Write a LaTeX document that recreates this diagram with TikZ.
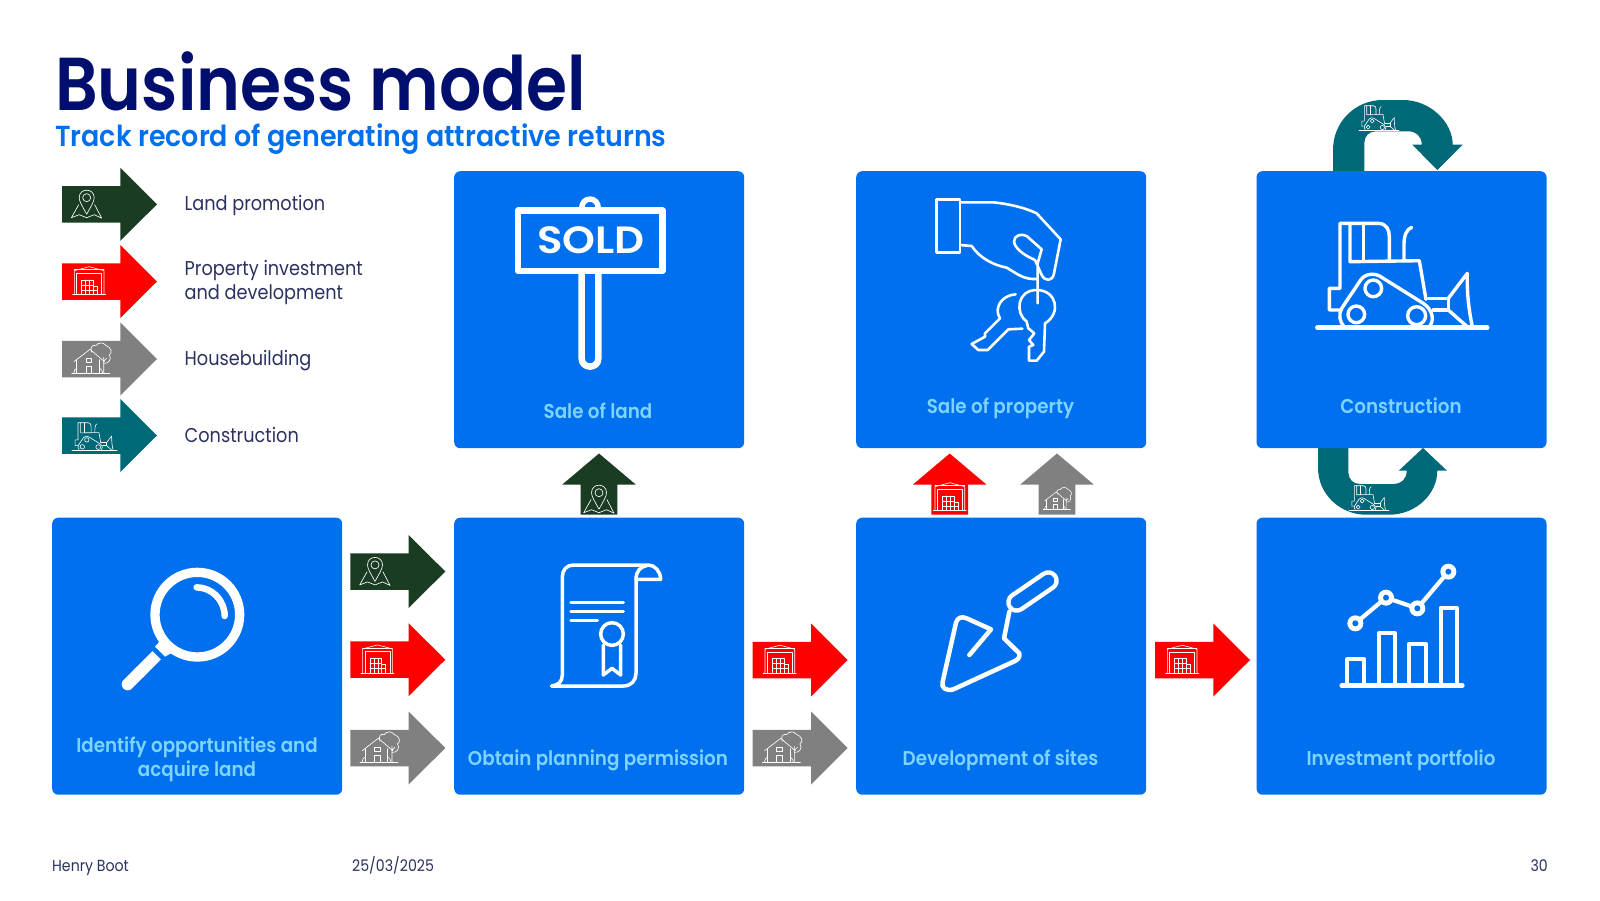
\documentclass[tikz,border=0pt]{standalone}
\usepackage{fontspec}
\setmainfont{Poppins}
\newfontfamily\titlef[FakeStretch=0.886]{Poppins SemiBold}
\newfontfamily\subf[FakeStretch=0.928]{Poppins SemiBold}
\newfontfamily\soldf[FakeStretch=1.1]{Poppins SemiBold}
\newfontfamily\boxf[FakeStretch=0.915]{Poppins SemiBold}
\newfontfamily\bodyf[FakeStretch=0.885]{Poppins}
\definecolor{bluebox}{RGB}{0,112,238}
\definecolor{boxtext}{RGB}{125,212,255}
\definecolor{titlenavy}{RGB}{0,14,110}
\definecolor{bodytext}{RGB}{43,50,95}
\definecolor{cland}{RGB}{26,60,34}
\definecolor{cprop}{RGB}{255,0,0}
\definecolor{chouse}{RGB}{128,128,128}
\definecolor{cbuild}{RGB}{0,105,120}
\tikzset{
  x=1pt,y=-1pt,
  blockbox/.style={fill=bluebox,rounded corners=6pt,minimum width=290pt,minimum height=277pt,inner sep=0pt,anchor=north west},
  boxlabel/.style={text=boxtext,font=\boxf\fontsize{20}{24}\selectfont,anchor=base,inner sep=0pt},
  legendtext/.style={text=bodytext,font=\bodyf\fontsize{20}{24}\selectfont,anchor=base west,inner sep=0pt},
  foot/.style={text=bodytext,font=\bodyf\fontsize{16}{18}\selectfont,anchor=base west,inner sep=0pt},
  icon/.style={draw=white,line cap=round,line join=round},
  rarrow/.pic={\fill[pic actions] (0,-18.25)--(58.3,-18.25)--(58.3,-36.5)--(95,0)--(58.3,36.5)--(58.3,18.25)--(0,18.25)--cycle;},
  uarrow/.pic={\fill[pic actions] (-18.3,61)--(-18.3,31)--(-36.7,31)--(0,0)--(36.7,31)--(18.3,31)--(18.3,61)--cycle;},
  pinicon/.pic={
    \draw[icon,line width=#1] (0,16.5) .. controls (-4,9) and (-7.5,4) .. (-7.5,0) .. controls (-7.5,-10) and (7.5,-10) .. (7.5,0) .. controls (7.5,4) and (4,9) .. (0,16.5);
    \draw[icon,line width=#1] (0,0) circle (4);
    \draw[icon,line width=#1] (-8,7)--(-15.3,20)--(-7.5,17)--(0,20)--(7.5,17)--(15,20.5)--(8,7);
  },
  wareicon/.pic={
    \draw[icon,line width=#1] (-16.7,0)--(16.3,0);
    \draw[icon,line width=#1] (-15,0)--(-15,-24)--(0,-28)--(14.7,-24)--(14.7,0);
    \draw[icon,line width=#1] (-15,-25)--(14.7,-25);
    \draw[icon,line width=#1] (-12.7,0)--(-12.7,-21.3)--(12.3,-21.3)--(12.3,0);
    \draw[icon,line width=#1] (-7.7,0)--(-7.7,-14.7)--(4,-14.7)--(4,-8.7)--(8,-8.7)--(8,0);
    \draw[icon,line width=#1] (-7.7,-9.7)--(4,-9.7) (-7.7,-4.7)--(8,-4.7) (-3.7,-14.7)--(-3.7,0) (0.3,-14.7)--(0.3,0) (4,-8.7)--(4,0);
  },
  houseicon/.pic={
    \draw[icon,line width=#1] (-19,0)--(19,0);
    \draw[icon,line width=#1] (-16.7,-11.7)--(-0.7,-24)--(13.7,-11.7);
    \draw[icon,line width=#1] (-14,-13.5)--(-14,0) (8.7,-13.5)--(8.7,0);
    \draw[icon,line width=#1] (-4.7,-15) rectangle (1,-10.7);
    \draw[icon,line width=#1] (-4.7,0)--(-4.7,-7.3)--(1,-7.3)--(1,0);
    \draw[icon,line width=#1] (1,-21) .. controls (-1.5,-27) and (3,-29) .. (5,-27.5) .. controls (7,-31) and (13,-31.5) .. (15,-28) .. controls (21,-26) and (22,-20) .. (18.5,-18.5) .. controls (22,-14) and (17,-9) .. (13,-10);
    \draw[icon,line width=#1] (13,-16)--(13,0) (13,-12)--(16,-15);
    \draw[icon,line width=#1] (-17,0) .. controls (-17,-3) and (-15,-5) .. (-14,-5) (9,-5) .. controls (11,-4) and (12,-2) .. (12,0);
  },
  dozericon/.pic={
    \begin{scope}[shift={(-232,-713)}]
    \draw[icon,line width=#1*1.3] (232,713)--(742,713);
    \draw[icon,line width=#1] (305,660)--(268,660)--(268,595)--(300,595)--(300,400)--(415,400) .. controls (440,400) and (448,420) .. (448,440)--(448,515);
    \draw[icon,line width=#1] (330,400)--(330,515)--(538,512)--(558,628);
    \draw[icon,line width=#1] (370,400)--(370,515);
    \draw[icon,line width=#1] (492,512)--(492,465) .. controls (492,435) and (500,418) .. (515,412);
    \draw[icon,line width=#1] (315,713) .. controls (298,695) and (295,672) .. (305,655)--(362,570) .. controls (375,550) and (405,548) .. (422,560)--(550,640) .. controls (580,660) and (585,695) .. (565,713);
    \draw[icon,line width=#1] (400,595) circle (25) (349,673) circle (25) (530,677) circle (27);
    \draw[icon,line width=#1] (565,625)--(625,625)--(625,660)--(580,660);
    \draw[icon,line width=#1] (625,625)--(682,550) .. controls (680,610) and (688,670) .. (698,713);
    \draw[icon,line width=#1] (625,660)--(682,710);
    \end{scope}
  }
}
\newcommand\dozermini[3]{\pic[scale=#3] at (#1,#2) {dozericon=0.6pt};}
\newcommand\legland[2]{\begin{scope}[shift={(#1,#2)}]\pic[fill=cland] at (0,0) {rarrow};\pic at (24.7,-6.6) {pinicon=0.65pt};\end{scope}}
\newcommand\legprop[2]{\begin{scope}[shift={(#1,#2)}]\pic[fill=cprop] at (0,0) {rarrow};\pic at (27.3,13.2) {wareicon=0.6pt};\end{scope}}
\newcommand\leghouse[2]{\begin{scope}[shift={(#1,#2)}]\pic[fill=chouse] at (0,0) {rarrow};\pic at (28.7,14.3) {houseicon=0.65pt};\end{scope}}
\newcommand\legbuild[2]{\begin{scope}[shift={(#1,#2)}]\pic[fill=cbuild] at (0,0) {rarrow};\dozermini{10}{14.8}{0.0882}\end{scope}}
\begin{document}
\begin{tikzpicture}
\useasboundingbox (0,0) rectangle (1600,900);
\fill[white] (0,0) rectangle (1600,900);

% loop arrows, drawn first: they run behind the boxes
\fill[cbuild] (1333,175)--(1333,150) .. controls (1333,122) and (1355,100) .. (1383,100)--(1403,100) .. controls (1430,100) and (1452.7,122) .. (1452.7,144.7)--(1462.7,144.7)--(1437.3,170)--(1412.3,144.7)--(1421.7,144.7) .. controls (1421.7,136) and (1416,131.3) .. (1408,131.3)--(1376,131.3) .. controls (1369,131.3) and (1364.3,136) .. (1364.3,143)--(1364.3,175)--cycle;
\dozermini{1359}{130.3}{0.0784}
\fill[cbuild] (1318,445)--(1318,468) .. controls (1318,494) and (1340,514.7) .. (1366,514.7)--(1389,514.7) .. controls (1416,514.7) and (1437.3,494) .. (1437.3,470.7)--(1447,470.7)--(1423,448)--(1398.7,470.7)--(1406.7,470.7) .. controls (1406.7,479) and (1401,484) .. (1394,484)--(1360,484) .. controls (1353,484) and (1348.3,479) .. (1348.3,472)--(1348.3,445)--cycle;
\dozermini{1349}{510.3}{0.0784}

% boxes
\node[blockbox] (b1) at (52,517.5) {};
\node[blockbox] (b2) at (454,517.5) {};
\node[blockbox] (b3) at (856,517.5) {};
\node[blockbox] (b4) at (1256.3,517.5) {};
\node[blockbox] (t2) at (454,171) {};
\node[blockbox] (t3) at (856,171) {};
\node[blockbox] (t4) at (1256.3,171) {};

% title
\node[text=titlenavy,font=\titlef\fontsize{75}{80}\selectfont,anchor=base west,inner sep=0pt] (title) at (55,110) {Business model};
\node[text=bluebox,font=\subf\fontsize{29}{34}\selectfont,anchor=base west,inner sep=0pt] (subtitle) at (55,146) {Track record of generating attractive returns};

% legend
\legland{62}{204.3}
\legprop{62}{281.5}
\leghouse{62}{359}
\legbuild{62}{435.5}
\node[legendtext] (l1) at (184.5,210) {Land promotion};
\node[legendtext] (l2a) at (184.5,275) {Property investment};
\node[legendtext] (l2b) at (184.5,299) {and development};
\node[legendtext] (l3) at (184.5,365) {Housebuilding};
\node[legendtext] (l4) at (184.5,442) {Construction};

% flow arrows
\legland{350.3}{571.5}
\legprop{350.3}{659.7}
\leghouse{350.3}{748}
\legprop{752.7}{660}
\leghouse{752.7}{748}
\legprop{1155}{660}

% up arrows
\pic[fill=cland] at (599,453.5) {uarrow};
\pic at (599,492.7) {pinicon=0.65pt};
\pic[fill=cprop] at (949.7,453.5) {uarrow};
\pic at (950,510.7) {wareicon=0.6pt};
\pic[fill=chouse] at (1057,453.5) {uarrow};
\pic[scale=0.72] at (1056.7,509.3) {houseicon=0.55pt};

% box labels
\node[boxlabel] (t1a) at (197,752.2) {Identify opportunities and};
\node[boxlabel] (t1b) at (197,776.2) {acquire land};
\node[boxlabel] (t2b) at (598,765.7) {Obtain planning permission};
\node[boxlabel] (t3b) at (1000.5,765.7) {Development of sites};
\node[boxlabel] (t4b) at (1401,765.7) {Investment portfolio};
\node[boxlabel] (t2t) at (598,418.5) {Sale of land};
\node[boxlabel] (t3t) at (1000.5,413) {Sale of property};
\node[boxlabel] (t4t) at (1401,413.5) {Construction};

% magnifier
\begin{scope}[shift={(100,530)},scale=0.33333]
\draw[draw=white,line width=9.3pt] (292,254) circle (127);
\draw[icon,line width=6.5pt] (290,172) .. controls (335,172) and (374,210) .. (374,258);
\fill[white] (178,335)--(213,370)--(195,380)--(165,350)--cycle;
\draw[draw=white,line cap=round,line width=12pt] (83,463)--(120,426);
\draw[draw=white,line width=12pt] (115,431)--(170,376);
\end{scope}

% scroll
\begin{scope}[shift={(530,540)},scale=0.33333]
\draw[icon,line width=3.5pt] (65,438)--(280,438) .. controls (305,438) and (318,420) .. (318,400)--(318,118);
\draw[icon,line width=3.5pt] (65,438) .. controls (85,435) and (97,425) .. (97,405)--(97,110) .. controls (97,90) and (110,75) .. (130,75)--(355,75) .. controls (375,75) and (392,95) .. (392,118)--(318,118) .. controls (318,95) and (330,80) .. (350,77);
\draw[icon,line width=3.5pt] (123,188)--(280,188) (123,215)--(280,215) (123,242)--(202,242);
\draw[icon,line width=3.5pt] (246,282) circle (34);
\draw[icon,line width=3.5pt] (220,315)--(220,405)--(246,385)--(272,405)--(272,315);
\end{scope}

% sold sign
\begin{scope}[shift={(450,170)},scale=0.33333]
\draw[icon,line width=6.5pt] (204,122) rectangle (637,303);
\draw[icon,line width=6.5pt] (395,305)--(395,565) .. controls (395,598) and (445,598) .. (445,565)--(445,305);
\draw[icon,line width=5.5pt] (395,115) .. controls (395,78) and (445,78) .. (445,115);
\end{scope}
\node[text=white,font=\soldf\fontsize{38}{40}\selectfont,inner sep=0pt] (sold) at (591,240) {SOLD};

% hand with keys
\begin{scope}[shift={(850,170)},scale=0.33333]
\draw[icon,line width=2.6pt] (260,88) rectangle (330,247);
\draw[icon,line width=2.6pt] (330,97)--(430,97) .. controls (480,102) and (530,115) .. (560,130)--(632,208)--(612,310) .. controls (608,335) and (585,335) .. (575,315)--(555,270) .. controls (520,255) and (495,235) .. (492,215) .. controls (492,195) and (515,190) .. (530,198)--(575,238)--(563,280)--(563,400);
\draw[icon,line width=2.6pt] (330,225)--(365,228) .. controls (390,265) and (430,285) .. (470,293) .. controls (500,310) and (520,330) .. (563,327);
\draw[icon,line width=2.6pt] (530,455) .. controls (495,430) and (500,360) .. (560,360) .. controls (620,360) and (635,430) .. (585,460)--(582,545)--(560,572)--(537,572)--(537,530)--(550,525)--(537,510)--(553,490)--(535,475)--(530,455);
\draw[icon,line width=2.6pt] (497,373) .. controls (455,375) and (430,415) .. (450,445)--(405,490)--(405,500)--(365,522)--(385,540)--(413,540)--(475,478)--(517,476);
\end{scope}

% trowel
\begin{scope}[shift={(920,550)},scale=0.33333]
\draw[draw=white,line cap=round,line width=21pt] (290,157)--(385,92);
\draw[draw=bluebox,line cap=round,line width=12pt] (290,157)--(385,92);
\draw[icon,line width=4.5pt] (268,185)--(252,265)--(298,310) .. controls (300,320) and (295,328) .. (285,333)--(100,418) .. controls (78,425) and (62,412) .. (68,395)--(108,218) .. controls (112,203) and (125,198) .. (140,205)--(213,238)--(148,315);
\end{scope}

% dozer
\pic[scale=0.33333] at (1317.3,327.7) {dozericon=3.4pt};

% chart
\begin{scope}[shift={(1240,430)},scale=0.33333]
\draw[icon,line width=4.5pt] (305,767)--(667,767);
\draw[icon,line width=4.2pt] (322,767)--(322,688)--(372,688)--(372,767);
\draw[icon,line width=4.2pt] (417,767)--(417,610)--(465,610)--(465,767);
\draw[icon,line width=4.2pt] (508,767)--(508,641)--(557,641)--(557,767);
\draw[icon,line width=4.2pt] (602,767)--(602,533)--(650,533)--(650,767);
\draw[icon,line width=4.2pt] (346,580)--(438,503)--(532,535)--(625,425);
\foreach \p in {(346,580),(438,503),(532,535),(625,425)} {
  \fill[white] \p circle (24);
  \fill[bluebox] \p circle (9);
}
\end{scope}

% footer
\node[foot] (f1) at (52,871) {Henry Boot};
\node[foot] (f2) at (352,871) {25/03/2025};
\node[foot,anchor=base east] (f3) at (1548,871) {30};
\end{tikzpicture}
\end{document}
